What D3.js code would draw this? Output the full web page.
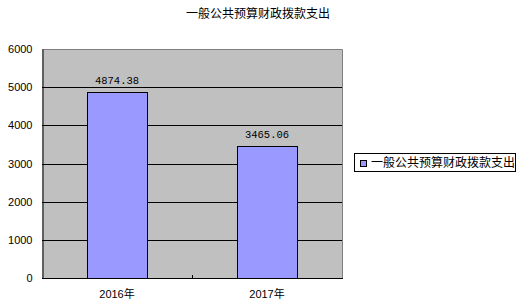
<!DOCTYPE html>
<html>
<head>
<meta charset="utf-8">
<script src="https://cdn.jsdelivr.net/npm/d3@7/dist/d3.min.js"></script>
<style>
  body { margin: 0; background: #fff; }
  svg { display: block; }
</style>
</head>
<body>
<svg width="525" height="307"></svg>
<script>
var title = "一般公共预算财政拨款支出";
var categories = ["2016年", "2017年"];
var values = [4874.38, 3465.06];
var yTicks = [0, 1000, 2000, 3000, 4000, 5000, 6000];

var svg = d3.select("svg");
var cjk = "'Noto Sans CJK SC', sans-serif";

var pLeft = 42, pRight = 342, pTop = 49, pBottom = 278;

var x = d3.scaleBand()
    .domain(categories)
    .range([pLeft, pRight])
    .paddingInner(0.6)
    .paddingOuter(0.3);

var y = d3.scaleLinear()
    .domain([0, 6000])
    .range([pBottom, pTop]);

// plot background
svg.append("rect")
    .attr("x", pLeft).attr("y", pTop)
    .attr("width", pRight - pLeft).attr("height", pBottom - pTop)
    .attr("fill", "#c0c0c0");

// grid lines
svg.selectAll(".grid")
  .data(yTicks.slice(1, -1))
  .enter().append("line")
    .attr("x1", pLeft).attr("x2", pRight)
    .attr("y1", d => Math.round(y(d)) + 0.5).attr("y2", d => Math.round(y(d)) + 0.5)
    .attr("stroke", "#000");

// border top/right (grey)
svg.append("path")
    .attr("d", "M" + pLeft + "," + (pTop + 0.5) + "H" + (pRight + 0.5) + "V" + pBottom)
    .attr("fill", "none")
    .attr("stroke", "#808080");

// bars
svg.selectAll(".bar")
  .data(values)
  .enter().append("rect")
    .attr("x", (d, i) => Math.round(x(categories[i])) + 0.5)
    .attr("y", d => Math.round(y(d)) + 0.5)
    .attr("width", x.bandwidth())
    .attr("height", d => pBottom - Math.round(y(d)))
    .attr("fill", "#9999ff")
    .attr("stroke", "#000");

// value labels
svg.selectAll(".val")
  .data(values)
  .enter().append("text")
    .attr("x", (d, i) => x(categories[i]) + x.bandwidth() / 2)
    .attr("y", d => y(d) - 8)
    .attr("text-anchor", "middle")
    .attr("font-family", "'Liberation Mono', monospace")
    .attr("font-size", "10.5px")
    .text(d => d.toFixed(2));

// y axis
var yAxis = d3.axisLeft(y).tickValues(yTicks).tickFormat(d3.format("d")).tickSize(0).tickPadding(10);
var gy = svg.append("g")
    .attr("transform", "translate(" + (pLeft + 0.5) + ",0)")
    .call(yAxis);
gy.select(".domain").attr("stroke", "#000");
gy.selectAll("text")
    .attr("font-family", "'Liberation Sans', Arial, sans-serif")
    .attr("font-size", "11px")
    .attr("fill", "#000");

// x axis
var xAxis = d3.axisBottom(x).tickSize(0).tickPadding(12);
var gx = svg.append("g")
    .attr("transform", "translate(0," + (pBottom + 0.5) + ")")
    .call(xAxis);
gx.select(".domain").attr("stroke", "#000").attr("d", "M" + pLeft + ",0H" + (pRight + 1));
gx.selectAll("text")
    .attr("font-family", "'Liberation Sans', " + cjk)
    .attr("font-size", "11px")
    .attr("fill", "#000");
// category divider tick
svg.append("line")
    .attr("x1", x.step() + pLeft + 0.5).attr("x2", x.step() + pLeft + 0.5)
    .attr("y1", pBottom).attr("y2", pBottom - 3)
    .attr("stroke", "#000");

// title
svg.append("text")
    .attr("x", 258).attr("y", 18)
    .attr("text-anchor", "middle")
    .attr("font-family", cjk)
    .attr("font-size", "12px")
    .text(title);

// legend
var lg = svg.append("g").attr("transform", "translate(354,153)");
lg.append("rect")
    .attr("x", 0.5).attr("y", 0.5)
    .attr("width", 161).attr("height", 18)
    .attr("fill", "#fff")
    .attr("stroke", "#000");
lg.append("rect")
    .attr("x", 6.5).attr("y", 7.5)
    .attr("width", 6).attr("height", 6)
    .attr("fill", "#9999ff")
    .attr("stroke", "#000");
lg.append("text")
    .attr("x", 17).attr("y", 14)
    .attr("font-family", cjk)
    .attr("font-size", "12px")
    .text(title);
</script>
</body>
</html>
